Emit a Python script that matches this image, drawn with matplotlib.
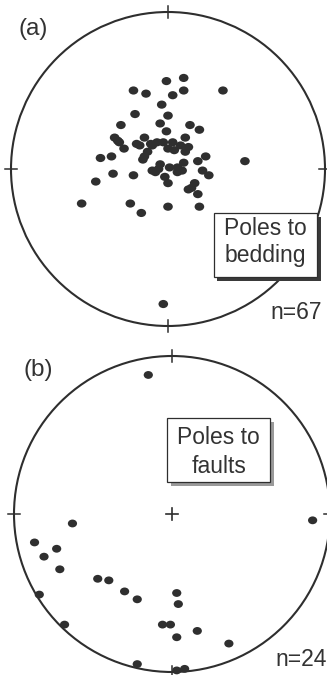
import matplotlib.pyplot as plt
from matplotlib.patches import Circle, Rectangle
from matplotlib.path import Path
from matplotlib.transforms import Affine2D

plt.rcParams['font.family'] = ['Liberation Sans', 'DejaVu Sans']

# poles, as x/y on the equal-area net (net radius = 1)
bed_x = [-0.01, 0.10, 0.10, 0.35, -0.22, -0.14, 0.03, -0.04, -0.21, 0.00,
         -0.30, -0.05, -0.01, 0.14, 0.20, -0.34, -0.31, -0.28, -0.15, -0.18,
         -0.20, -0.11, -0.07, -0.03, 0.00, 0.04, 0.08, 0.11, 0.13, 0.11,
         -0.13, -0.16, -0.43, -0.36, -0.35, -0.22, -0.10, -0.06, 0.01, 0.06,
         0.10, 0.09, 0.19, 0.24, 0.22, 0.26, -0.02, 0.00, 0.17, 0.15,
         0.19, -0.46, -0.55, -0.24, -0.17, 0.00, 0.20, 0.49, -0.03,
         -0.10, 0.03, -0.05, 0.06, 0.13, -0.32, -0.08, -0.15]
bed_y = [0.56, 0.58, 0.50, 0.50, 0.50, 0.48, 0.47, 0.41, 0.35, 0.34,
         0.28, 0.29, 0.24, 0.28, 0.25, 0.20, 0.17, 0.13, 0.20, 0.15,
         0.16, 0.16, 0.17, 0.17, 0.13, 0.12, 0.15, 0.20, 0.14, 0.11,
         0.11, 0.06, 0.07, 0.08, -0.03, -0.04, -0.01, 0.00, 0.01, 0.01,
         0.04, -0.01, 0.05, 0.08, -0.01, -0.04, -0.05, -0.09, -0.09, -0.12,
         -0.16, -0.08, -0.22, -0.22, -0.28, -0.24, -0.24, 0.05, -0.86,
         0.15, 0.17, 0.03, -0.02, -0.13, 0.18, -0.02, 0.08]

fault_x = [-0.15, -0.63, 0.89, -0.87, -0.73, -0.81, -0.71, -0.47, -0.40, -0.84,
           -0.30, -0.22, 0.03, 0.04, -0.68, -0.06, -0.01, 0.03, 0.16, 0.36,
           -0.22, 0.03, 0.08]
fault_y = [0.88, -0.06, -0.04, -0.18, -0.22, -0.27, -0.35, -0.41, -0.42, -0.51,
           -0.49, -0.54, -0.50, -0.57, -0.70, -0.70, -0.70, -0.78, -0.74, -0.82,
           -0.95, -0.99, -0.98]

ink = '#2e2e2e'
dot = Path.unit_circle().transformed(Affine2D().scale(1.0, 0.85))

fig = plt.figure(figsize=(3.27, 6.75), dpi=100)
fig.patch.set_facecolor('white')

# net positions in pixels: centre x, centre y, radius
nets = [(168, 169, 157), (172, 514, 158)]
axes = []
for cx, cy, r in nets:
    ax = fig.add_axes([(cx - r) / 327, (675 - cy - r) / 675, 2 * r / 327, 2 * r / 675])
    ax.set_xlim(-1, 1)
    ax.set_ylim(-1, 1)
    ax.axis('off')
    ax.add_patch(Circle((0, 0), 1, fill=False, ec=ink, lw=1.5, clip_on=False, zorder=2))
    t = 0.04
    for x0, y0 in [(0, 1), (0, -1)]:
        ax.plot([x0, x0], [y0 - t, y0 + t], color=ink, lw=1.1, clip_on=False)
    for x0, y0 in [(1, 0), (-1, 0)]:
        ax.plot([x0 - t, x0 + t], [y0, y0], color=ink, lw=1.1, clip_on=False)
    axes.append(ax)

ax1, ax2 = axes

ax1.scatter(bed_x, bed_y, s=48, marker=dot, color='#2f2f2f', edgecolors='none',
            zorder=3, clip_on=False)
ax2.scatter(fault_x, fault_y, s=44, marker=dot, color='#2f2f2f', edgecolors='none',
            zorder=3, clip_on=False)

# centre cross on (b)
ax2.plot([-0.035, 0.035], [0, 0], color=ink, lw=1.2)
ax2.plot([0, 0], [-0.035, 0.035], color=ink, lw=1.2)


def label_box(ax, x0, y0, w, h, lines, ys, shade):
    d = 0.025
    ax.add_patch(Rectangle((x0 + d, y0 - d), w, h, fc=shade, ec='none', zorder=4, clip_on=False))
    ax.add_patch(Rectangle((x0, y0), w, h, fc='white', ec=ink, lw=0.9, zorder=5, clip_on=False))
    for s, yy in zip(lines, ys):
        ax.text(x0 + w / 2, yy, s, ha='center', va='baseline', fontsize=16.5,
                color='#333333', zorder=6)


label_box(ax1, 0.29, -0.69, 0.66, 0.41, ['Poles to', 'bedding'], [-0.42, -0.59], '#3a3a3a')
label_box(ax2, -0.03, 0.20, 0.65, 0.41, ['Poles to', 'faults'], [0.44, 0.26], '#9a9a9a')

ax1.text(-0.955, 0.89, '(a)', ha='left', va='center', fontsize=17.5, color='#333333')
ax2.text(-0.943, 0.91, '(b)', ha='left', va='center', fontsize=17.5, color='#333333')
ax1.text(0.98, -0.917, 'n=67', ha='right', va='center', fontsize=16.5, color='#333333')
ax2.text(0.652, -0.924, 'n=24', ha='left', va='center', fontsize=16.5, color='#333333',
         clip_on=False)

fig.savefig('out.png', dpi=100)
